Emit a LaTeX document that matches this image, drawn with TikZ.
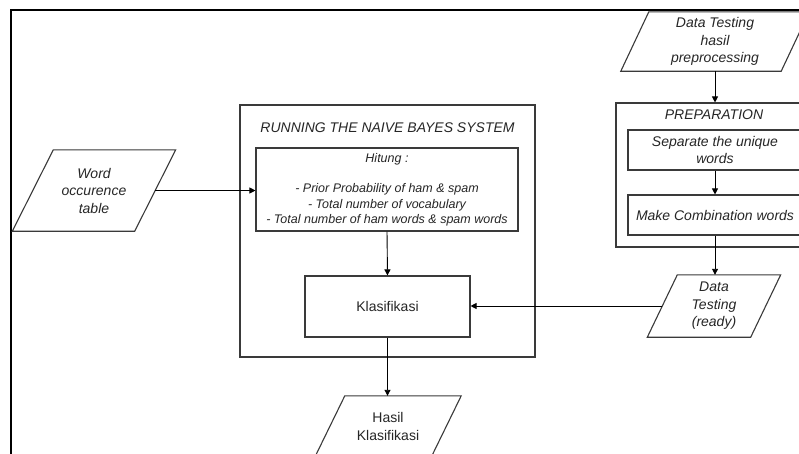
\documentclass[tikz,border=0pt]{standalone}
\usepackage{fontspec}
\setmainfont{Liberation Sans}
\usetikzlibrary{arrows.meta}
\definecolor{boxcol}{HTML}{3A3A3A}
\definecolor{txtcol}{HTML}{262626}
\newcommand{\fsmain}{\fontsize{14}{17.5}\selectfont}
\newcommand{\fssmall}{\fontsize{12.5}{15.3}\selectfont}
\newcommand{\iodraw}[2]{\draw[boxline] ([xshift=#2]#1.north west) -- ([xshift=#2]#1.north east) -- ([xshift=-#2]#1.south east) -- ([xshift=-#2]#1.south west) -- cycle;}
\tikzset{
  boxline/.style={draw=boxcol, line width=1.1pt},
  procbox/.style={rectangle, boxline, inner sep=0pt, align=center, text=txtcol, font=\fsmain},
  container/.style={rectangle, boxline, inner sep=0pt},
  iotext/.style={rectangle, draw=none, inner sep=0pt, align=center, text=txtcol, font=\fsmain},
  titletext/.style={inner sep=0pt, text=txtcol, font=\fsmain\itshape},
  arr/.style={draw=black, line width=0.9pt, -{Triangle[length=6pt,width=6pt]}},
}
\begin{document}
\begin{tikzpicture}[x=1pt,y=-1pt]
\useasboundingbox (0,0) rectangle (799,453);
\clip (0,0) rectangle (799,453);
\fill[white] (0,0) rectangle (799,453);
% outer frame
\draw[black, line width=1.8pt] (11,480) -- (11,10) -- (830,10);

% containers
\node[container, minimum width=295pt, minimum height=252pt] (run) at (387.5,231) {};
\node[titletext] (runtitle) at (387.5,128) {RUNNING THE NAIVE BAYES SYSTEM};
\node[container, minimum width=198pt, minimum height=144pt] (prep) at (715,175) {};
\node[titletext] (preptitle) at (714,115) {PREPARATION};

% process boxes
\node[procbox, minimum width=262pt, minimum height=83pt, font=\fssmall\itshape] (hitung) at (387,189.5)
  {Hitung :\\[15.3pt]- Prior Probability of ham \& spam\\- Total number of vocabulary\\- Total number of ham words \& spam words};
\node[procbox, minimum width=165pt, minimum height=61pt] (klas) at (387.5,306.5) {Klasifikasi};
\node[procbox, minimum width=174pt, minimum height=40pt, font=\fsmain\itshape] (sep) at (715,150) {Separate the unique\\words};
\node[procbox, minimum width=174pt, minimum height=40pt, font=\fsmain\itshape] (make) at (715,215) {Make Combination words};

% input/output (parallelograms)
\node[iotext, minimum width=122pt, minimum height=81pt, font=\fsmain\itshape] (word) at (94,190.5) {Word\\occurence\\table};
\iodraw{word}{20.5pt}
\node[iotext, minimum width=160pt, minimum height=59pt, font=\fsmain\itshape] (pre) at (715,41.5) {Data Testing\\hasil\\preprocessing};
\iodraw{pre}{14pt}
\node[iotext, minimum width=103pt, minimum height=62pt, font=\fsmain\itshape] (ready) at (714,306) {Data\\Testing\\(ready)};
\iodraw{ready}{15pt}
\node[iotext, minimum width=116pt, minimum height=61pt] (hasil) at (388,426.5) {Hasil\\Klasifikasi};
\iodraw{hasil}{15pt}

% connectors
\draw[arr] (word.east) -- (word.east -| hitung.west);
\draw[arr] (hitung.south) -- (klas.north);
\draw[arr] (klas.south) -- (klas.south |- hasil.north);
\draw[arr] (ready.west) -- (ready.west -| klas.east);
\draw[arr] (pre.south) -- (pre.south |- prep.north);
\draw[arr] (sep.south) -- (make.north);
\draw[arr] (make.south) -- (make.south |- ready.north);
\end{tikzpicture}
\end{document}
